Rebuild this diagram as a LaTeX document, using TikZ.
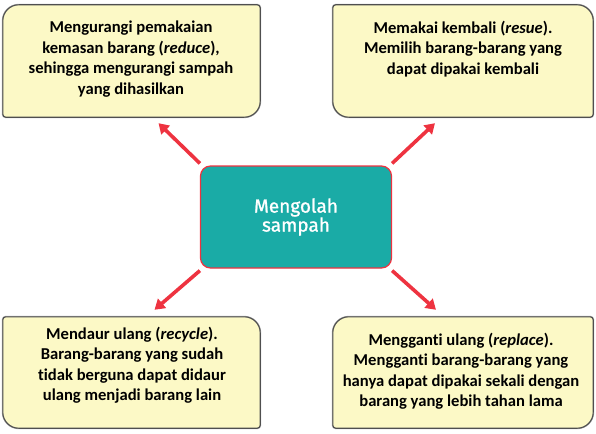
\documentclass[tikz,border=0pt]{standalone}
\usepackage{fontspec}
\setmainfont[Ligatures=NoCommon]{Carlito}
\newfontfamily\centerfont[FakeBold=1.2]{Fira Sans}
\usetikzlibrary{arrows.meta,calc}
\definecolor{boxfill}{HTML}{FCF9C6}
\definecolor{boxline}{HTML}{4F4F4F}
\definecolor{boxshadow}{HTML}{A8A8A8}
\definecolor{tealc}{HTML}{1AABA6}
\definecolor{redc}{HTML}{EE3340}
\tikzset{
  slot/.style={draw=none,inner sep=0pt},
  txt/.style={align=center,font=\bfseries\fontsize{16.6}{20.5}\selectfont,inner sep=0pt},
  arr/.style={draw=redc,line width=3.6pt,-{Triangle[length=10pt,width=12pt]}},
}
% #1 node name, radii for nw ne se sw
\newcommand{\mybox}[5]{%
  \draw[boxshadow,line width=2pt,shift={(1.2pt,-1.2pt)}]
    (#1.west) [rounded corners=#2] -- (#1.north west) -- (#1.north)
    [rounded corners=#3] -- (#1.north east) -- (#1.east)
    [rounded corners=#4] -- (#1.south east) -- (#1.south)
    [rounded corners=#5] -- (#1.south west) -- cycle;
  \draw[boxline,fill=boxfill,line width=1.1pt]
    (#1.west) [rounded corners=#2] -- (#1.north west) -- (#1.north)
    [rounded corners=#3] -- (#1.north east) -- (#1.east)
    [rounded corners=#4] -- (#1.south east) -- (#1.south)
    [rounded corners=#5] -- (#1.south west) -- cycle;
}
\begin{document}
\begin{tikzpicture}[x=1pt,y=-1pt]
\useasboundingbox (0,0) rectangle (596,433);
\node[slot,minimum width=257pt,minimum height=112pt] (tl) at (131.5,61) {};
\node[slot,minimum width=260pt,minimum height=112pt] (tr) at (463,61) {};
\node[slot,minimum width=257pt,minimum height=111pt] (bl) at (131.5,372.5) {};
\node[slot,minimum width=260pt,minimum height=111pt] (br) at (463,372.5) {};
\mybox{tl}{16pt}{3pt}{16pt}{3pt}
\mybox{tr}{3pt}{16pt}{3pt}{16pt}
\mybox{bl}{3pt}{16pt}{3pt}{16pt}
\mybox{br}{16pt}{3pt}{16pt}{3pt}
\node[txt] (tltext) at (131,59) {Mengurangi pemakaian\\kemasan barang (\textit{reduce}),\\sehingga mengurangi sampah\\yang dihasilkan};
\node[txt] (trtext) at (463,49) {Memakai kembali (\textit{resue}).\\Memilih barang-barang yang\\dapat dipakai kembali};
\node[txt] (bltext) at (132,365) {Mendaur ulang (\textit{recycle}).\\Barang-barang yang sudah\\tidak berguna dapat didaur\\ulang menjadi barang lain};
\node[txt] (brtext) at (461,371) {Mengganti ulang (\textit{replace}).\\Mengganti barang-barang yang\\hanya dapat dipakai sekali dengan\\barang yang lebih tahan lama};
\node[draw=redc,line width=1.2pt,fill=tealc,rounded corners=10pt,minimum width=191pt,minimum height=102pt,
  text=white,align=center,font=\centerfont\fontsize{19}{19}\selectfont] (c) at (296,217) {Mengolah\\sampah};
\draw[arr] ($(c.north west)+(0,-2)$) -- ($(tl.south)+(27,6)$);
\draw[arr] ($(c.north east)+(0,-2)$) -- ($(tr.south)+(-28,6)$);
\draw[arr] ($(c.south west)+(0,2)$) -- ($(bl.north)+(23,-7)$);
\draw[arr] ($(c.south east)+(0,2)$) -- ($(br.north)+(-27,-7)$);
\end{tikzpicture}
\end{document}
